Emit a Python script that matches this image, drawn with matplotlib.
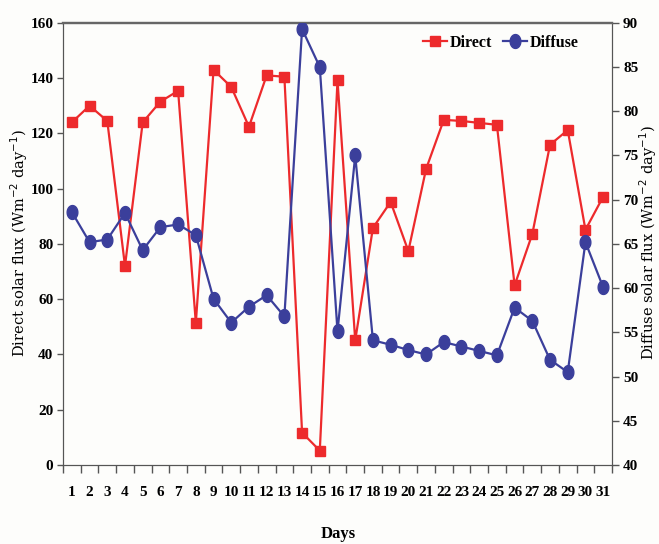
import matplotlib
matplotlib.use("Agg")
import matplotlib.pyplot as plt
import numpy as np
from matplotlib.path import Path
from matplotlib.ticker import FixedLocator, NullFormatter, FixedFormatter

days = list(range(1, 32))
direct = [124, 130, 124.5, 72, 124, 131.5, 135.4, 51.4, 143, 136.8,
          122.4, 141, 140.5, 11.7, 5.2, 139.2, 45.1, 85.8, 95.2, 77.4,
          107.1, 124.9, 124.5, 123.8, 123.1, 65, 83.6, 115.9, 121.2, 85.1,
          97.1]
diffuse = [68.6, 65.2, 65.5, 68.5, 64.3, 66.9, 67.2, 66.0, 58.8, 56.1,
           57.9, 59.2, 56.8, 89.3, 85.0, 55.1, 75.0, 54.1, 53.6, 53.0,
           52.5, 53.9, 53.4, 52.9, 52.4, 57.8, 56.3, 51.9, 50.5, 65.2,
           60.1]

red = "#ED2A2C"
blue = "#3B3F9B"
bg = "#FDFDFB"
tick_family = "Liberation Serif"
tick_size = 11
label_font = dict(family="DejaVu Serif", size=10.5)

# slightly tall ellipse marker for the diffuse series
theta = np.linspace(0, 2 * np.pi, 60)
ellipse = Path(np.column_stack([np.cos(theta), 1.3 * np.sin(theta)]), closed=True)

fig = plt.figure(figsize=(6.59, 5.44), dpi=100, facecolor=bg)
ax = fig.add_axes([0.0956, 0.1452, 0.8331, 0.8128])
ax.set_facecolor(bg)
ax2 = ax.twinx()

l1, = ax.plot(days, direct, color=red, lw=1.6, marker="s", ms=6.5,
              markeredgecolor=red, label="Direct", zorder=3)
l2, = ax2.plot(days, diffuse, color=blue, lw=1.6, marker=ellipse, ms=10,
               markeredgecolor=blue, label="Diffuse", zorder=3)

ax.set_xlim(0.5, 31.5)
ax.set_ylim(0, 160)
ax2.set_ylim(40, 90)
ax.set_yticks(np.arange(0, 161, 20))
ax2.set_yticks(np.arange(40, 91, 5))

# day labels sit between the category tick marks
ax.xaxis.set_major_locator(FixedLocator(np.arange(0.5, 32, 1)))
ax.xaxis.set_major_formatter(NullFormatter())
ax.xaxis.set_minor_locator(FixedLocator(days))
ax.xaxis.set_minor_formatter(FixedFormatter([str(d) for d in days]))
ax.tick_params(axis="x", which="major", direction="out", length=6, width=1, color="#555555")
ax.tick_params(axis="x", which="minor", length=0, pad=15)
ax.tick_params(axis="y", direction="out", length=4, width=1, color="#555555", pad=3)
ax2.tick_params(axis="y", direction="out", length=5, width=1, color="#555555", pad=3)

for lab in ax.get_xticklabels(minor=True) + ax.get_yticklabels() + ax2.get_yticklabels():
    lab.set_fontfamily(tick_family)
    lab.set_fontweight("bold")
    lab.set_fontsize(tick_size)

for sp in ("left", "bottom", "right"):
    ax.spines[sp].set_color("#555555")
    ax2.spines[sp].set_color("#555555")
for a in (ax, ax2):
    a.spines["top"].set_color("#666666")
    a.spines["top"].set_linewidth(1.6)

fig.text(19 / 659, 1 - 243 / 544, "Direct solar flux (Wm$^{-2}$ day$^{-1}$)",
         rotation=90, ha="center", va="center", **label_font)
fig.text(648 / 659, 1 - 243 / 544, "Diffuse solar flux (Wm$^{-2}$ day$^{-1}$)",
         rotation=90, ha="center", va="center", **label_font)
fig.text(338 / 659, 1 - 534 / 544, "Days", ha="center", va="center",
         family=tick_family, weight="bold", size=12)

ax2.legend(handles=[l1, l2], loc="upper right", bbox_to_anchor=(0.965, 1.005),
           ncol=2, frameon=False, handlelength=1.5, handletextpad=0.15,
           columnspacing=0.7, prop=dict(family=tick_family, weight="bold", size=11.5))

fig.savefig("out.png", dpi=100, facecolor=fig.get_facecolor())
